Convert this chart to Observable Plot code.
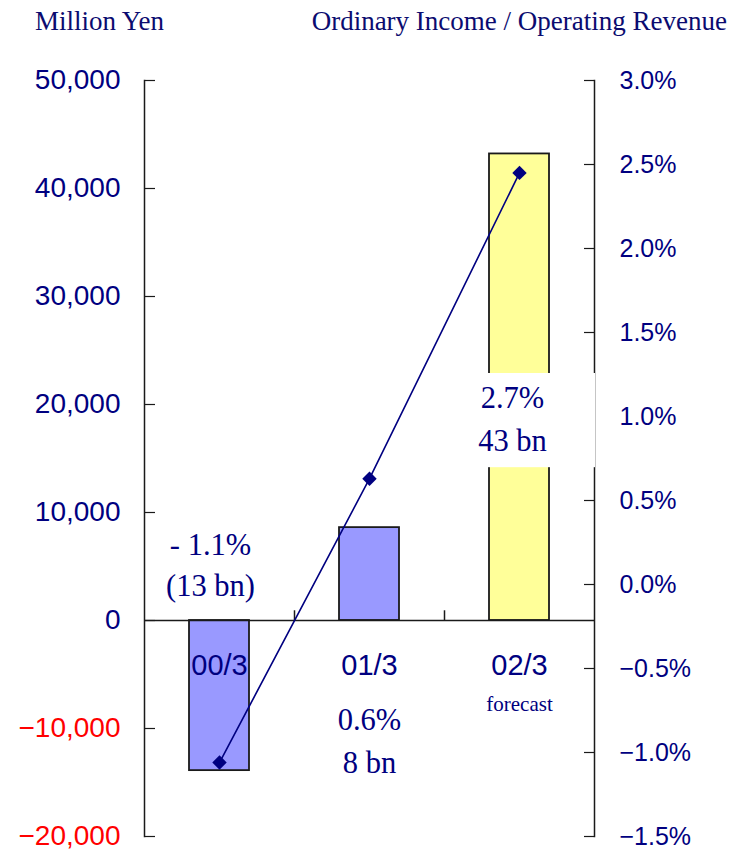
<!DOCTYPE html>
<html>
<head>
<meta charset="utf-8">
<script src="https://cdn.jsdelivr.net/npm/d3@7"></script>
<script src="https://cdn.jsdelivr.net/npm/@observablehq/plot@0.6"></script>
<style>
  html, body { margin: 0; padding: 0; background: #fff; }
  #wrap { position: relative; width: 731px; height: 851px; overflow: hidden; }
  .title { position: absolute; top: 6px; font-family: "Liberation Serif", "Times New Roman", serif; font-size: 27px; color: #0b0b70; white-space: nowrap; }
  #t1 { left: 35px; }
  #t2 { right: 4px; }
  #chart { position: absolute; left: 0; top: 0; }
</style>
</head>
<body>
<div id="wrap">
  <div id="chart"></div>
  <div class="title" id="t1">Million Yen</div>
  <div class="title" id="t2">Ordinary Income / Operating Revenue</div>
</div>
<script>
// ---- data ----
const categories = ["00/3", "01/3", "02/3"];
const incomeYen = [-13900, 8600, 43200];          // bars, million yen
const ratioPct = [-1.06, 0.63, 2.45];              // line, %
const ratioLabels = ["- 1.1%", "0.6%", "2.7%"];
const amountLabels = ["(13 bn)", "8 bn", "43 bn"];
const noteLabels = ["", "", "forecast"];
const leftTicks = [-20000, -10000, 0, 10000, 20000, 30000, 40000, 50000];
const rightTicks = [-1.5, -1.0, -0.5, 0.0, 0.5, 1.0, 1.5, 2.0, 2.5, 3.0];

// ---- style ----
const NAVY = "#000080";
const BLUE = "#9999ff";
const YELLOW = "#ffff99";
const SANS = "'Liberation Sans', Arial, sans-serif";
const SERIF = "'Liberation Serif', 'Times New Roman', serif";
const PLOT_W = 450; // inner plot width

const yMin = -20000, yMax = 50000, pMin = -1.5, pMax = 3.0;
const pctToYen = p => yMin + (p - pMin) / (pMax - pMin) * (yMax - yMin);
const yenToPct = v => Math.round(((v - yMin) / (yMax - yMin) * (pMax - pMin) + pMin) * 10) / 10;
const fmtPct = p => (p < 0 ? "\u2212" : "") + Math.abs(p).toFixed(1) + "%";

const rows = categories.map((c, i) => ({
  cat: c, yen: incomeYen[i], pct: ratioPct[i],
  r1: ratioLabels[i], r2: amountLabels[i], note: noteLabels[i],
  forecast: noteLabels[i] !== ""
}));

// annotation placement
const annDx = [-9, 0, -7];
const annY1 = [545, 720, 398];
const annY2 = [586, 763, 441];
const annMarks = rows.map((d, i) => [
  Plot.text([d], { x: "cat", text: "r1", frameAnchor: "top", dx: annDx[i], dy: annY1[i] - 80, fill: NAVY, fontSize: 30.5, fontFamily: SERIF, lineAnchor: "middle" }),
  Plot.text([d], { x: "cat", text: "r2", frameAnchor: "top", dx: annDx[i], dy: annY2[i] - 80, fill: NAVY, fontSize: 30.5, fontFamily: SERIF, lineAnchor: "middle" })
]).flat();

const chart = Plot.plot({
  width: 731,
  height: 851,
  marginLeft: 144,
  marginRight: 137,
  marginTop: 80,
  marginBottom: 15,
  style: { background: "transparent", overflow: "visible" },
  x: { type: "band", domain: categories, paddingInner: 0.6, paddingOuter: 0.3, axis: null },
  y: { domain: [yMin, yMax], axis: null },
  color: { type: "identity" },
  marks: [
    // bars
    Plot.barY(rows, { x: "cat", y: "yen", fill: d => d.forecast ? YELLOW : BLUE, stroke: "#1a1a1a", strokeWidth: 1.8 }),
    // zero line
    Plot.ruleY([0], { stroke: "#1a1a1a", strokeWidth: 1.5 }),
    // category boundary ticks on zero line
    Plot.ruleX(categories.slice(0, 2), { x: d => d, y1: 0, y2: 900, dx: 75, stroke: "#1a1a1a", strokeWidth: 1.5 }),
    // frame sides
    Plot.frame({ anchor: "left", stroke: "#1a1a1a", strokeWidth: 1.5 }),
    Plot.frame({ anchor: "right", stroke: "#1a1a1a", strokeWidth: 1.5 }),
    // inward ticks (opposite-anchored axes shifted across the plot)
    Plot.axisY({ anchor: "right", ticks: leftTicks, tickSize: 10, tickFormat: () => "", label: null, dx: -PLOT_W, stroke: "#1a1a1a", strokeWidth: 1.2 }),
    Plot.axisY({ anchor: "left", ticks: rightTicks.map(pctToYen), tickSize: 10, tickFormat: () => "", label: null, dx: PLOT_W, stroke: "#1a1a1a", strokeWidth: 1.2 }),
    // left tick labels
    Plot.axisY({ anchor: "left", ticks: leftTicks.filter(v => v >= 0), tickSize: 0, tickPadding: 24, tickFormat: d3.format(","), label: null, fill: NAVY, fontSize: 28, fontFamily: SANS }),
    Plot.axisY({ anchor: "left", ticks: leftTicks.filter(v => v < 0), tickSize: 0, tickPadding: 24, tickFormat: d3.format(","), label: null, fill: "#ff0000", fontSize: 28, fontFamily: SANS }),
    // right tick labels
    Plot.axisY({ anchor: "right", ticks: rightTicks.map(pctToYen), tickSize: 0, tickPadding: 25, tickFormat: v => fmtPct(yenToPct(v)), label: null, fill: NAVY, fontSize: 25, fontFamily: SANS }),
    // category labels
    Plot.text(rows, { x: "cat", y: 0, text: "cat", dy: 45, fill: NAVY, fontSize: 29, fontFamily: SANS, lineAnchor: "middle" }),
    Plot.text(rows, { x: "cat", y: 0, text: "note", dy: 84, fill: NAVY, fontSize: 21, fontFamily: SERIF, lineAnchor: "middle" }),
    // ratio line
    Plot.line(rows, { x: "cat", y: d => pctToYen(d.pct), stroke: NAVY, strokeWidth: 1.6 }),
    Plot.dot(rows, { x: "cat", y: d => pctToYen(d.pct), symbol: "diamond2", r: 6.5, fill: NAVY, stroke: null }),
    // white label box behind forecast annotation
    Plot.barY(rows.filter(d => d.forecast), { x: "cat", y1: 14150, y2: 22870, fill: "#ffffff", insetLeft: -17, insetRight: -46 }),
    // annotations
    ...annMarks
  ]
});

document.getElementById("chart").appendChild(chart);
</script>
</body>
</html>
